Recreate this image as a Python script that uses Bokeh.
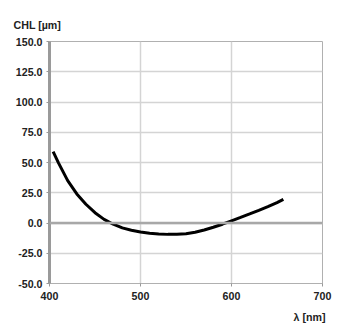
import numpy as np
from bokeh.plotting import figure
from bokeh.models import FixedTicker, PrintfTickFormatter, Title, Span, Range1d
from bokeh.embed import file_html
from bokeh.resources import INLINE

wavelength = [404, 410, 420, 430, 440, 450, 460, 470, 480, 490, 500, 510, 520, 530, 540,
              550, 560, 570, 580, 590, 600, 610, 620, 630, 640, 650, 657]
chl = [59.0, 49.5, 35.0, 24.0, 15.5, 8.5, 3.0, -1.0, -4.0, -6.0, -7.5, -8.5, -9.1, -9.4, -9.3,
       -8.8, -7.6, -5.8, -3.5, -1.0, 1.8, 4.6, 7.5, 10.5, 13.6, 16.9, 19.5]
x_ticks = [400, 500, 600, 700]
y_ticks = [-50, -25, 0, 25, 50, 75, 100, 125, 150]

font = "Liberation Sans"
p = figure(width=345, height=329, output_backend="svg", toolbar_location=None,
           x_range=Range1d(400, 700), y_range=Range1d(-50, 150),
           min_border_left=49, min_border_right=23, min_border_top=41, min_border_bottom=43)
p.outline_line_color = "#b0b0b0"
p.outline_line_width = 1
p.background_fill_color = "white"

p.xaxis.ticker = FixedTicker(ticks=x_ticks)
p.yaxis.ticker = FixedTicker(ticks=y_ticks)
p.yaxis.formatter = PrintfTickFormatter(format="%.1f")
for ax in (p.xaxis, p.yaxis):
    ax.major_label_text_font = font
    ax.major_label_text_font_style = "bold"
    ax.major_label_text_font_size = "8pt"
    ax.major_label_text_color = "#222222"
    ax.minor_tick_line_color = None
    ax.major_tick_in = 0
    ax.major_tick_out = 3
    ax.major_tick_line_color = "#999999"
p.yaxis.axis_line_color = "#9a9a9a"
p.yaxis.axis_line_width = 3
p.xaxis.axis_line_color = "#b0b0b0"
p.xaxis.axis_line_width = 1
p.yaxis.major_label_standoff = 4
p.xaxis.major_label_standoff = 5

p.xgrid.grid_line_color = "#d4d4d4"
p.ygrid.grid_line_color = "#d4d4d4"
p.xgrid.grid_line_width = 1.5
p.ygrid.grid_line_width = 1.5

p.add_layout(Span(location=0, dimension="width", line_color="#a8a8a8", line_width=2.5))

p.line(wavelength, chl, line_color="black", line_width=3)

p.add_layout(Title(text="CHL [µm]", align="left", offset=-36, text_font=font,
                   text_font_style="bold", text_font_size="8pt", text_color="#222222",
                   standoff=22), "above")
p.add_layout(Title(text="λ [nm]", align="right", offset=-3, text_font=font,
                   text_font_style="bold", text_font_size="8pt", text_color="#222222",
                   standoff=13), "below")

open("out.html", "w").write(file_html(p, INLINE))
